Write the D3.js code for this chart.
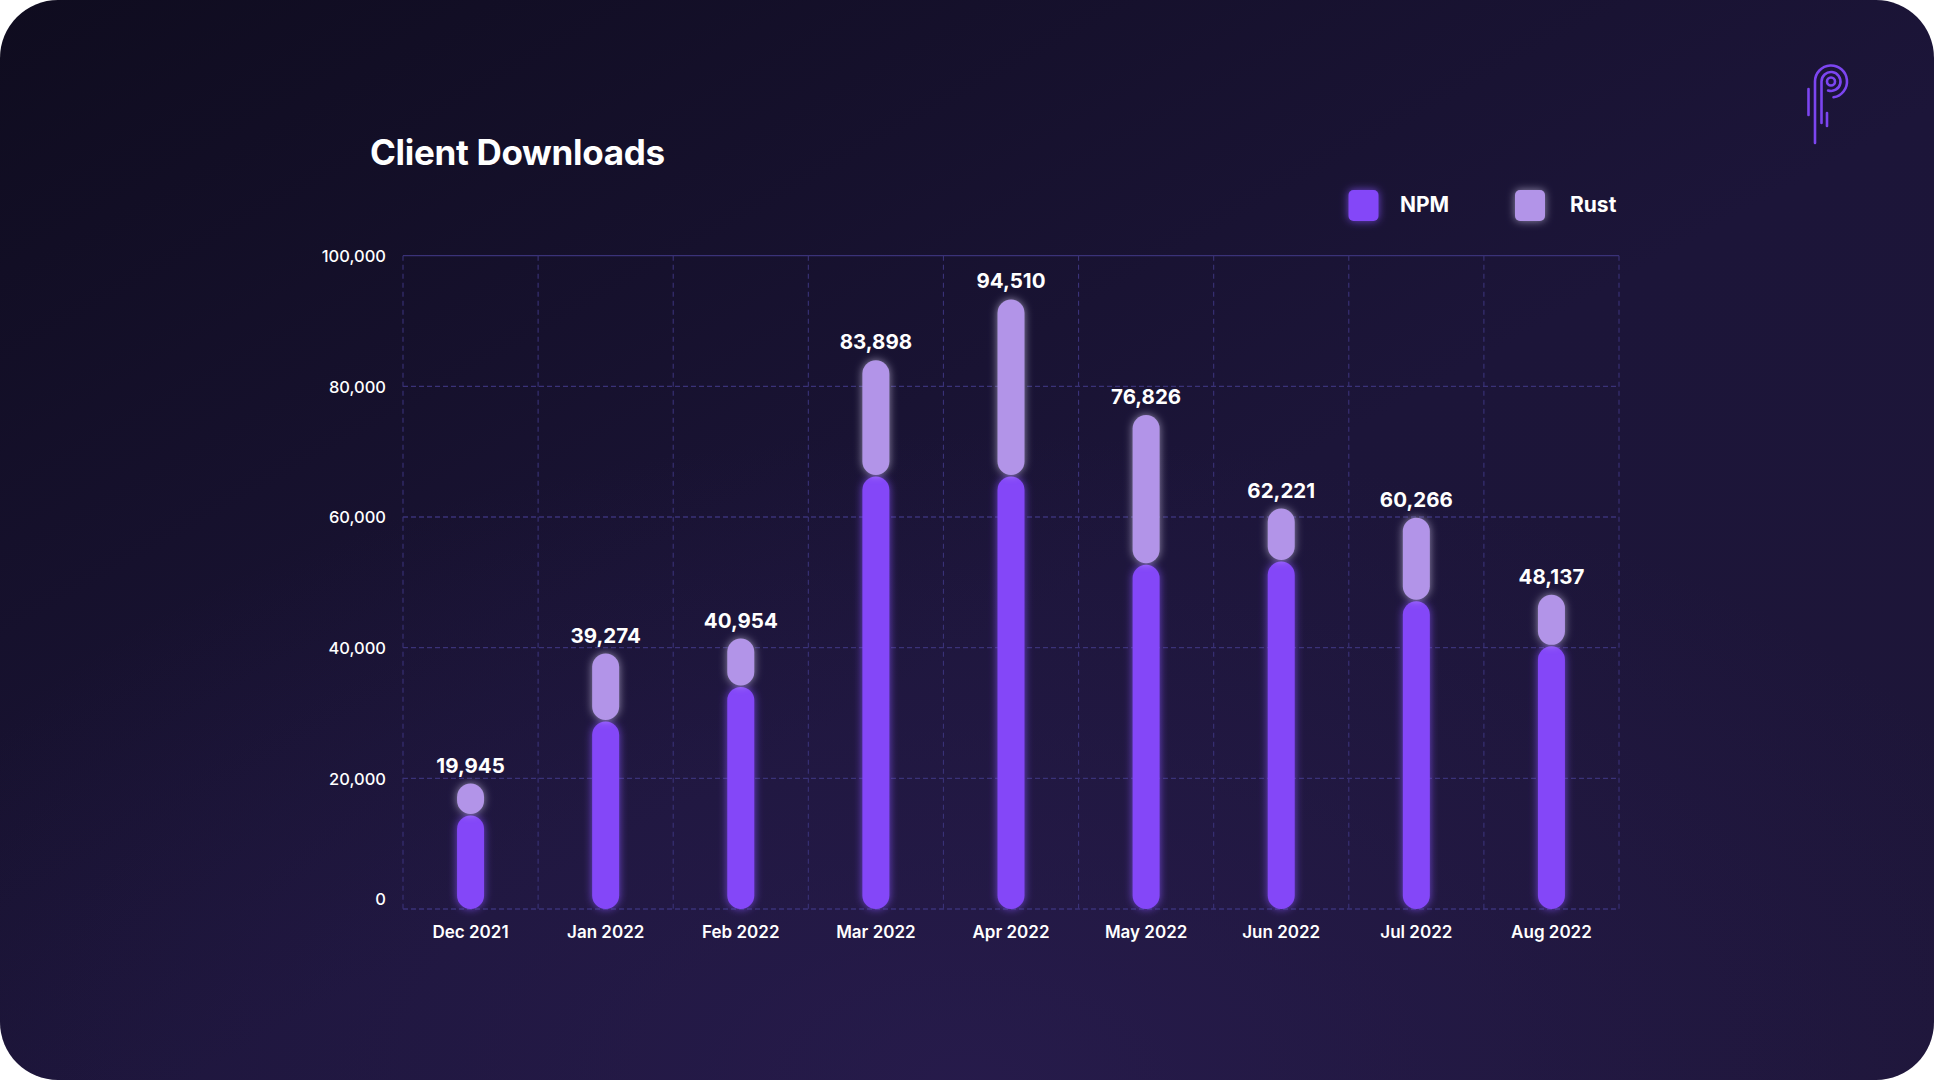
<!DOCTYPE html>
<html>
<head>
<meta charset="utf-8">
<script src="https://cdn.jsdelivr.net/npm/d3@7"></script>
<style>
  html, body { margin: 0; padding: 0; background: #ffffff; }
  svg { display: block; }
  text { font-family: Inter, "Noto Sans", sans-serif; fill: #ffffff; }
</style>
</head>
<body>
<svg id="chart" width="1934" height="1080"></svg>
<script>
// ---- data ----
const months = ["Dec 2021", "Jan 2022", "Feb 2022", "Mar 2022", "Apr 2022", "May 2022", "Jun 2022", "Jul 2022", "Aug 2022"];
const npmValues = [14300, 28700, 34000, 66200, 66200, 52700, 53200, 47100, 40200];
const rustValues = [4900, 10400, 7400, 17800, 27100, 22900, 8100, 12800, 7900];
const totalLabels = [19945, 39274, 40954, 83898, 94510, 76826, 62221, 60266, 48137];
const yTicks = [0, 20000, 40000, 60000, 80000, 100000];
const seriesNames = ["NPM", "Rust"];
const title = "Client Downloads";

// ---- styles ----
const W = 1934, H = 1080;
const colors = { NPM: "#8447f8", Rust: "#b294e8" };
const gridColor = "#3a3278";

const svg = d3.select("#chart");
const defs = svg.append("defs");

const bg = defs.append("linearGradient").attr("id", "bgGrad")
  .attr("x1", "0").attr("y1", "0").attr("x2", "1").attr("y2", "1");
bg.append("stop").attr("offset", "0%").attr("stop-color", "#0f0c1f");
bg.append("stop").attr("offset", "55%").attr("stop-color", "#1c1539");
bg.append("stop").attr("offset", "100%").attr("stop-color", "#1e1639");

const rg = defs.append("radialGradient").attr("id", "bgGlow")
  .attr("cx", "0.5").attr("cy", "1").attr("r", "0.6");
rg.append("stop").attr("offset", "0%").attr("stop-color", "#2a1d52").attr("stop-opacity", 0.7);
rg.append("stop").attr("offset", "100%").attr("stop-color", "#2a1d52").attr("stop-opacity", 0);

function glow(id, color, std, op) {
  const f = defs.append("filter").attr("id", id)
    .attr("x", "-80%").attr("y", "-30%").attr("width", "260%").attr("height", "160%");
  f.append("feGaussianBlur").attr("in", "SourceAlpha").attr("stdDeviation", std).attr("result", "b");
  f.append("feFlood").attr("flood-color", color).attr("flood-opacity", op);
  f.append("feComposite").attr("in2", "b").attr("operator", "in").attr("result", "g");
  const m = f.append("feMerge");
  m.append("feMergeNode").attr("in", "g");
  m.append("feMergeNode").attr("in", "SourceGraphic");
}
glow("glowNPM", "#8a55ff", 4, 0.75);
glow("glowRust", "#e6dcff", 4, 0.6);

// card background
svg.append("rect").attr("x", 0).attr("y", 0).attr("width", W).attr("height", H)
  .attr("rx", 58).attr("ry", 58).attr("fill", "url(#bgGrad)");
svg.append("rect").attr("x", 0).attr("y", 0).attr("width", W).attr("height", H)
  .attr("rx", 58).attr("ry", 58).attr("fill", "url(#bgGlow)");

// ---- scales ----
const x = d3.scaleBand().domain(months).range([403, 1619]).padding(0);
const y = d3.scaleLinear().domain([0, 100000]).range([909, 255.7]);
const barW = 27;

// grid
const grid = svg.append("g");
grid.selectAll("line.h").data(yTicks).join("line")
  .attr("x1", x.range()[0]).attr("x2", x.range()[1])
  .attr("y1", d => y(d)).attr("y2", d => y(d))
  .attr("stroke", gridColor).attr("stroke-width", 1.3)
  .attr("stroke-dasharray", d => d === 100000 ? null : "5,3");
const vEdges = months.map(m => x(m)).concat([x.range()[1]]);
grid.selectAll("line.v").data(vEdges).join("line")
  .attr("x1", d => d).attr("x2", d => d)
  .attr("y1", y(100000)).attr("y2", y(0))
  .attr("stroke", gridColor).attr("stroke-width", 1.1)
  .attr("stroke-dasharray", "5,4");

// y axis labels
const yAxis = d3.axisLeft(y).tickValues(yTicks).tickFormat(d3.format(",")).tickSize(0).tickPadding(0);
const yg = svg.append("g").attr("transform", "translate(386,0)").call(yAxis);
yg.select(".domain").remove();
yg.selectAll("text")
  .attr("font-family", "Inter, sans-serif").attr("font-size", 16.5).attr("font-weight", 500)
  .attr("fill", "#ffffff").attr("text-anchor", "end")
  .attr("dy", d => d === 0 ? "-0.25em" : "0.35em");

// x axis labels
const xAxis = d3.axisBottom(x).tickSize(0).tickPadding(0);
const xg = svg.append("g").attr("transform", "translate(0,925)").call(xAxis);
xg.select(".domain").remove();
xg.selectAll("text")
  .attr("font-family", "Inter, sans-serif").attr("font-size", 17).attr("font-weight", 600)
  .attr("fill", "#ffffff").attr("dy", "0.74em").attr("y", 0);

// bars
const rows = months.map((m, i) => ({ m, npm: npmValues[i], rust: rustValues[i], label: totalLabels[i] }));
const bars = svg.append("g");
bars.selectAll("rect.npm").data(rows).join("rect")
  .attr("class", "npm")
  .attr("x", d => x(d.m) + x.bandwidth() / 2 - barW / 2)
  .attr("y", d => y(d.npm))
  .attr("width", barW)
  .attr("height", d => y(0) - y(d.npm))
  .attr("rx", barW / 2)
  .attr("fill", colors.NPM)
  .attr("filter", "url(#glowNPM)");
bars.selectAll("rect.rust").data(rows).join("rect")
  .attr("class", "rust")
  .attr("x", d => x(d.m) + x.bandwidth() / 2 - barW / 2)
  .attr("y", d => y(d.npm + d.rust))
  .attr("width", barW)
  .attr("height", d => y(d.npm) - y(d.npm + d.rust) - 1.5)
  .attr("rx", barW / 2)
  .attr("fill", colors.Rust)
  .attr("filter", "url(#glowRust)");

// value labels
svg.append("g").selectAll("text").data(rows).join("text")
  .attr("x", d => x(d.m) + x.bandwidth() / 2)
  .attr("y", d => y(d.npm + d.rust) - 11)
  .attr("text-anchor", "middle")
  .attr("font-size", 20.5).attr("font-weight", 700)
  .text(d => d3.format(",")(d.label));

// title
svg.append("text").attr("x", 370).attr("y", 165)
  .attr("font-size", 35).attr("font-weight", 700)
  .attr("textLength", 295).attr("lengthAdjust", "spacing")
  .text(title);

// legend
const legendPos = { NPM: [1348.5, 1400], Rust: [1515, 1570] };
const lg = svg.append("g");
seriesNames.forEach(s => {
  lg.append("rect").attr("x", legendPos[s][0]).attr("y", 190).attr("width", 30).attr("height", 31)
    .attr("rx", 5).attr("fill", colors[s])
    .attr("filter", s === "NPM" ? "url(#glowNPM)" : "url(#glowRust)");
  lg.append("text").attr("x", legendPos[s][1]).attr("y", 212)
    .attr("font-size", 21).attr("font-weight", 700).text(s);
});

// logo
const logo = svg.append("g").attr("fill", "none").attr("stroke", "#7c45f0")
  .attr("stroke-width", 2.6).attr("stroke-linecap", "round");
const cx = 1831, cy = 81.5;
const p1 = d3.path();
p1.moveTo(1815, 143); p1.lineTo(1815, cy);
p1.arc(cx, cy, 16, Math.PI, Math.PI * 2.45, false);
logo.append("path").attr("d", p1.toString());
const p2 = d3.path();
p2.moveTo(1821.5, 123); p2.lineTo(1821.5, cy);
p2.arc(cx, cy, 9.5, Math.PI, Math.PI * 2.6, false);
logo.append("path").attr("d", p2.toString());
logo.append("circle").attr("cx", cx).attr("cy", cy).attr("r", 4);
logo.append("line").attr("x1", 1808.5).attr("x2", 1808.5).attr("y1", 89).attr("y2", 115);
logo.append("line").attr("x1", 1827).attr("x2", 1827).attr("y1", 113).attr("y2", 126);
</script>
</body>
</html>
